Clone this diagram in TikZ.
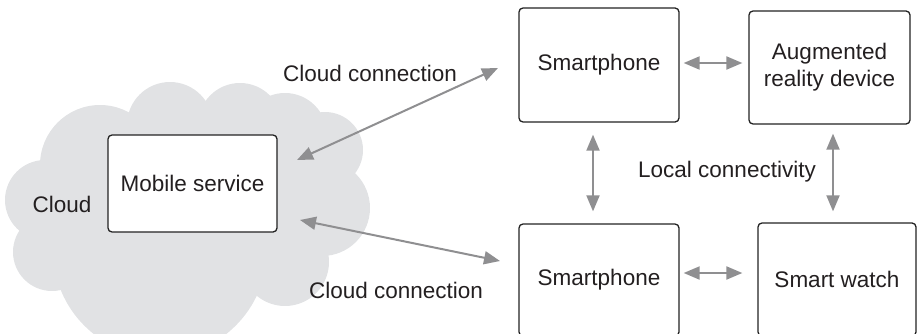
\documentclass[tikz,border=0pt]{standalone}
\usepackage{fontspec}
\setmainfont{Liberation Sans}
\usetikzlibrary{arrows.meta}
\definecolor{cloudgray}{RGB}{225,226,228}
\definecolor{arrowgray}{RGB}{143,143,145}
\definecolor{boxline}{RGB}{35,35,35}
\definecolor{txt}{RGB}{35,31,32}
\begin{document}
\begin{tikzpicture}[x=1pt,y=-1pt,
  box/.style={draw=boxline, line width=1.3pt, rounded corners=4pt, fill=white,
    inner sep=0pt, align=center, text=txt, font=\fontsize{22.5}{27}\selectfont},
  lbl/.style={text=txt, font=\fontsize{22.5}{27}\selectfont, inner sep=0pt},
  arr/.style={draw=arrowgray, line width=2pt,
    {Triangle[length=16pt,width=13pt]}-{Triangle[length=16pt,width=13pt]}},
  cloudpart/.style={fill=cloudgray}
]
\clip (0,0) rectangle (917,334);
% cloud
\fill[cloudpart] (45,200) circle[radius=40];
\fill[cloudpart] (52,252) circle[radius=39];
\fill[cloudpart] (160,250) circle[radius=107];
\fill[cloudpart] (100,165) circle[radius=60];
\fill[cloudpart] (170,125) circle[radius=43];
\fill[cloudpart] (240,125) circle[radius=42];
\fill[cloudpart] (285,135) circle[radius=42];
\fill[cloudpart] (325,150) circle[radius=38];
\fill[cloudpart] (322,208) circle[radius=48];
\fill[cloudpart] (285,262) circle[radius=44];
\fill[cloudpart] (62,140) rectangle (315,285);
\node[lbl] (cloud) at (62,204) {Cloud};
% boxes
\node[box, minimum width=169pt, minimum height=97pt] (ms) at (192.5,183.5) {Mobile service};
\node[box, minimum width=160pt, minimum height=114pt] (sp1) at (599,65) {Smartphone};
\node[box, minimum width=161pt, minimum height=113pt] (ar) at (829.5,67.5) {Augmented\\reality device};
\node[box, minimum width=160pt, minimum height=112pt] (sp2) at (599,280) {Smartphone};
\node[box, minimum width=158pt, minimum height=113pt] (sw) at (837,279.5) {Smart watch};
% labels
\node[lbl] (cc1) at (370,73) {Cloud connection};
\node[lbl] (cc2) at (396,290) {Cloud connection};
\node[lbl] (lc) at (727,172) {Local connectivity};
% cloud connection ends
\coordinate (a1) at (297,160);
\coordinate (b1) at (498,68);
\coordinate (a2) at (300,220);
\coordinate (b2) at (500,261);
\draw[arr] (a1) -- (b1);
\draw[arr] (a2) -- (b2);
% local links
\draw[arr, shorten <=4pt, shorten >=6pt] ([yshift=2pt]sp1.east) -- ([yshift=2pt]sp1.east -| ar.west);
\draw[arr, shorten <=4pt, shorten >=15pt] ([yshift=7pt]sp2.east) -- ([yshift=7pt]sp2.east -| sw.west);
\draw[arr, shorten <=12pt, shorten >=12pt] ([xshift=-6pt]sp1.south) -- ([xshift=-6pt]sp1.south |- sp2.north);
\draw[arr, shorten <=9pt, shorten >=11pt] ([xshift=3.5pt]ar.south) -- ([xshift=3.5pt]ar.south |- sw.north);
\end{tikzpicture}
\end{document}
